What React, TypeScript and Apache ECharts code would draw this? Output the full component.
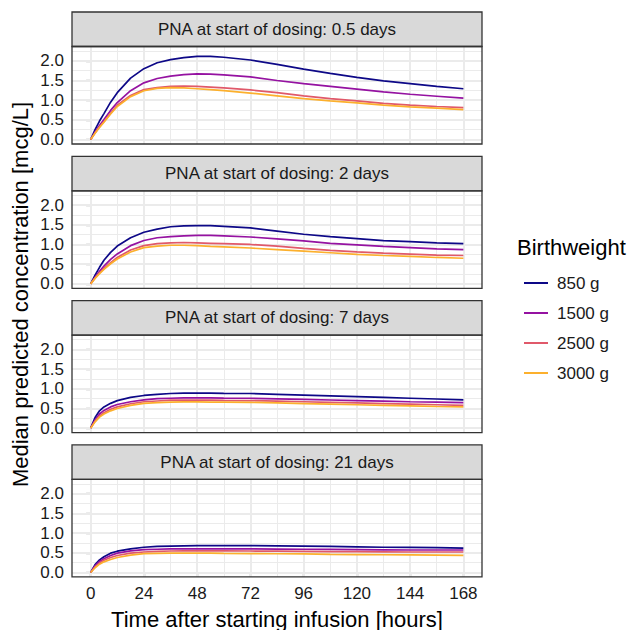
import React, { useEffect, useRef } from "react";
import * as echarts from "echarts";

const times = [0, 2, 4, 6, 9, 12, 18, 24, 30, 36, 42, 48, 54, 60, 72, 84, 96, 108, 120, 132, 144, 156, 168];
const weights = ["850 g", "1500 g", "2500 g", "3000 g"];
const weightColors = ["#0D0887", "#9512A1", "#E0596A", "#FCB02D"];
const pnaLabels = [
  "PNA at start of dosing: 0.5 days",
  "PNA at start of dosing: 2 days",
  "PNA at start of dosing: 7 days",
  "PNA at start of dosing: 21 days",
];
const xTicks = [0, 24, 48, 72, 96, 120, 144, 168];
const xMinor = [12, 36, 60, 84, 108, 132, 156];
const yTicks = [0, 0.5, 1, 1.5, 2];
const yMinor = [0.25, 0.75, 1.25, 1.75, 2.25];

// PNA 0.5 days
const pna05_850 = [0, 0.25, 0.47, 0.66, 0.95, 1.19, 1.56, 1.8, 1.95, 2.03, 2.08, 2.11, 2.11, 2.09, 2.02, 1.91, 1.79, 1.68, 1.58, 1.49, 1.42, 1.35, 1.29];
const pna05_1500 = [0, 0.19, 0.36, 0.51, 0.74, 0.94, 1.24, 1.44, 1.55, 1.61, 1.65, 1.67, 1.66, 1.64, 1.59, 1.5, 1.42, 1.35, 1.28, 1.21, 1.15, 1.1, 1.05];
const pna05_2500 = [0, 0.17, 0.32, 0.46, 0.67, 0.87, 1.12, 1.27, 1.32, 1.35, 1.36, 1.35, 1.33, 1.31, 1.26, 1.19, 1.11, 1.04, 0.98, 0.92, 0.875, 0.84, 0.81];
const pna05_3000 = [0, 0.16, 0.31, 0.44, 0.65, 0.84, 1.09, 1.24, 1.3, 1.32, 1.31, 1.29, 1.27, 1.24, 1.18, 1.11, 1.04, 0.98, 0.93, 0.875, 0.83, 0.8, 0.76];
// PNA 2 days
const pna2_850 = [0, 0.22, 0.42, 0.6, 0.8, 0.96, 1.17, 1.31, 1.39, 1.45, 1.47, 1.48, 1.48, 1.46, 1.42, 1.34, 1.26, 1.2, 1.15, 1.1, 1.07, 1.04, 1.02];
const pna2_1500 = [0, 0.17, 0.32, 0.45, 0.62, 0.76, 0.97, 1.1, 1.17, 1.2, 1.22, 1.23, 1.23, 1.22, 1.19, 1.14, 1.09, 1.03, 0.99, 0.95, 0.92, 0.89, 0.87];
const pna2_2500 = [0, 0.15, 0.28, 0.39, 0.54, 0.67, 0.86, 0.97, 1.02, 1.04, 1.05, 1.04, 1.03, 1.02, 1.0, 0.96, 0.9, 0.85, 0.81, 0.78, 0.755, 0.73, 0.72];
const pna2_3000 = [0, 0.14, 0.26, 0.37, 0.51, 0.63, 0.81, 0.92, 0.96, 0.98, 0.98, 0.97, 0.95, 0.94, 0.91, 0.87, 0.83, 0.79, 0.75, 0.72, 0.7, 0.67, 0.65];
// PNA 7 days
const pna7_850 = [0, 0.27, 0.44, 0.54, 0.63, 0.7, 0.78, 0.83, 0.86, 0.88, 0.89, 0.89, 0.89, 0.885, 0.88, 0.86, 0.84, 0.82, 0.8, 0.78, 0.76, 0.74, 0.72];
const pna7_1500 = [0, 0.21, 0.36, 0.45, 0.54, 0.6, 0.67, 0.72, 0.75, 0.76, 0.77, 0.77, 0.77, 0.765, 0.76, 0.745, 0.73, 0.715, 0.7, 0.685, 0.67, 0.66, 0.65];
const pna7_2500 = [0, 0.18, 0.31, 0.39, 0.48, 0.54, 0.62, 0.67, 0.69, 0.71, 0.71, 0.71, 0.71, 0.705, 0.7, 0.685, 0.67, 0.655, 0.64, 0.625, 0.61, 0.595, 0.58];
const pna7_3000 = [0, 0.16, 0.28, 0.36, 0.44, 0.5, 0.58, 0.63, 0.65, 0.66, 0.665, 0.665, 0.66, 0.66, 0.655, 0.64, 0.625, 0.61, 0.595, 0.58, 0.565, 0.55, 0.54];
// PNA 21 days
const pna21_850 = [0, 0.2, 0.32, 0.4, 0.49, 0.54, 0.6, 0.64, 0.66, 0.67, 0.675, 0.68, 0.68, 0.68, 0.68, 0.675, 0.67, 0.66, 0.65, 0.64, 0.635, 0.63, 0.62];
const pna21_1500 = [0, 0.17, 0.28, 0.35, 0.43, 0.49, 0.55, 0.58, 0.59, 0.6, 0.6, 0.6, 0.6, 0.6, 0.6, 0.595, 0.59, 0.585, 0.58, 0.575, 0.57, 0.57, 0.57];
const pna21_2500 = [0, 0.14, 0.24, 0.31, 0.38, 0.43, 0.49, 0.52, 0.535, 0.545, 0.55, 0.55, 0.55, 0.55, 0.545, 0.54, 0.535, 0.53, 0.53, 0.525, 0.52, 0.52, 0.52];
const pna21_3000 = [0, 0.12, 0.21, 0.27, 0.33, 0.38, 0.44, 0.48, 0.485, 0.49, 0.49, 0.49, 0.49, 0.485, 0.48, 0.475, 0.47, 0.46, 0.455, 0.45, 0.445, 0.44, 0.435];

const panelData = [
  [pna05_850, pna05_1500, pna05_2500, pna05_3000],
  [pna2_850, pna2_1500, pna2_2500, pna2_3000],
  [pna7_850, pna7_1500, pna7_2500, pna7_3000],
  [pna21_850, pna21_1500, pna21_2500, pna21_3000],
];

const FONT = "'Liberation Sans', Arial, Helvetica, sans-serif";
const PLOT_LEFT = 72;
const PLOT_W = 410;
const PLOT_H = 97.5;
const STRIP_H = 34.5;
const plotTops = [46.5, 190.8, 335.1, 479.4];
const GRID_COLOR = "#EBEBEB";
const DARK = "#333333";
const TEXT = "#1A1A1A";

export default function App() {
  const ref = useRef<HTMLDivElement>(null);

  useEffect(() => {
    document.body.style.margin = "0";
    if (!ref.current) return;
    const chart = echarts.init(ref.current, undefined, { renderer: "svg" });

    const grids = plotTops.map((top) => ({
      left: PLOT_LEFT,
      top,
      width: PLOT_W,
      height: PLOT_H,
      containLabel: false,
    }));

    const xAxes = plotTops.map((_, i) => {
      const last = i === plotTops.length - 1;
      return {
        type: "value",
        gridIndex: i,
        min: -8.4,
        max: 176.4,
        axisLine: { show: false },
        splitLine: { show: false },
        minorSplitLine: { show: false },
        axisTick: {
          show: last,
          customValues: xTicks,
          length: 4.5,
          lineStyle: { color: DARK, width: 1.2 },
        },
        axisLabel: {
          show: last,
          customValues: xTicks,
          fontSize: 17,
          fontFamily: FONT,
          color: TEXT,
          margin: 8,
        },
      };
    });

    const yAxes = plotTops.map((_, i) => ({
      type: "value",
      gridIndex: i,
      min: -0.1125,
      max: 2.3625,
      axisLine: { show: false },
      splitLine: { show: false },
      axisTick: {
        show: true,
        customValues: yTicks,
        length: 4.5,
        lineStyle: { color: DARK, width: 1.2 },
      },
      axisLabel: {
        show: true,
        customValues: yTicks,
        fontSize: 17,
        fontFamily: FONT,
        color: TEXT,
        margin: 8,
        formatter: (v: number) => v.toFixed(1),
      },
    }));

    const series: any[] = [];
    plotTops.forEach((_, i) => {
      const mk = (v: number, axis: "xAxis" | "yAxis", w: number) => ({
        [axis]: v,
        lineStyle: { color: GRID_COLOR, width: w, type: "solid" },
      });
      series.push({
        type: "line",
        xAxisIndex: i,
        yAxisIndex: i,
        data: [],
        z: 1,
        silent: true,
        markLine: {
          z: 1,
          silent: true,
          symbol: ["none", "none"],
          label: { show: false },
          emphasis: { disabled: true },
          animation: false,
          data: [
            ...xMinor.map((v) => mk(v, "xAxis", 1)),
            ...yMinor.map((v) => mk(v, "yAxis", 1)),
            ...xTicks.map((v) => mk(v, "xAxis", 2)),
            ...yTicks.map((v) => mk(v, "yAxis", 2)),
          ],
        },
      });
      panelData[i].forEach((arr, j) => {
        series.push({
          type: "line",
          name: weights[j],
          xAxisIndex: i,
          yAxisIndex: i,
          data: times.map((t, k) => [t, arr[k]]),
          showSymbol: false,
          symbol: "none",
          smooth: false,
          z: 3,
          lineStyle: { width: 1.7, color: weightColors[j] },
          itemStyle: { color: weightColors[j] },
        });
      });
    });

    const graphics: any[] = [];
    plotTops.forEach((top, i) => {
      graphics.push({
        type: "rect",
        shape: { x: PLOT_LEFT, y: top - STRIP_H, width: PLOT_W, height: STRIP_H },
        style: { fill: "#D9D9D9", stroke: DARK, lineWidth: 1.3 },
        z: 100,
      });
      graphics.push({
        type: "text",
        x: PLOT_LEFT + PLOT_W / 2,
        y: top - STRIP_H / 2,
        style: {
          text: pnaLabels[i],
          font: `17px ${FONT}`,
          fill: TEXT,
          textAlign: "center",
          textVerticalAlign: "middle",
        },
        z: 101,
      });
      graphics.push({
        type: "rect",
        shape: { x: PLOT_LEFT, y: top, width: PLOT_W, height: PLOT_H },
        style: { fill: "none", stroke: DARK, lineWidth: 1.3 },
        z: 100,
      });
    });
    graphics.push({
      type: "text",
      x: 20,
      y: 294.5,
      rotation: Math.PI / 2,
      style: {
        text: "Median predicted concentration [mcg/L]",
        font: `22px ${FONT}`,
        fill: "#000",
        textAlign: "center",
        textVerticalAlign: "middle",
      },
    });
    graphics.push({
      type: "text",
      x: PLOT_LEFT + PLOT_W / 2,
      y: 619,
      style: {
        text: "Time after starting infusion [hours]",
        font: `22px ${FONT}`,
        fill: "#000",
        textAlign: "center",
        textVerticalAlign: "middle",
      },
    });
    graphics.push({
      type: "text",
      x: 517,
      y: 247,
      style: {
        text: "Birthweight",
        font: `22px ${FONT}`,
        fill: "#000",
        textAlign: "left",
        textVerticalAlign: "middle",
      },
    });

    chart.setOption({
      animation: false,
      backgroundColor: "#FFFFFF",
      grid: grids,
      xAxis: xAxes,
      yAxis: yAxes,
      series,
      legend: {
        orient: "vertical",
        left: 519,
        top: 269,
        data: weights,
        icon: "rect",
        itemWidth: 24,
        itemHeight: 2,
        itemGap: 12,
        selectedMode: false,
        textStyle: {
          fontSize: 17,
          fontFamily: FONT,
          color: TEXT,
          lineHeight: 18,
          padding: [0, 0, 0, 4],
        },
      },
      graphic: graphics,
    });

    return () => chart.dispose();
  }, []);

  return <div ref={ref} style={{ width: 630, height: 630 }} />;
}
